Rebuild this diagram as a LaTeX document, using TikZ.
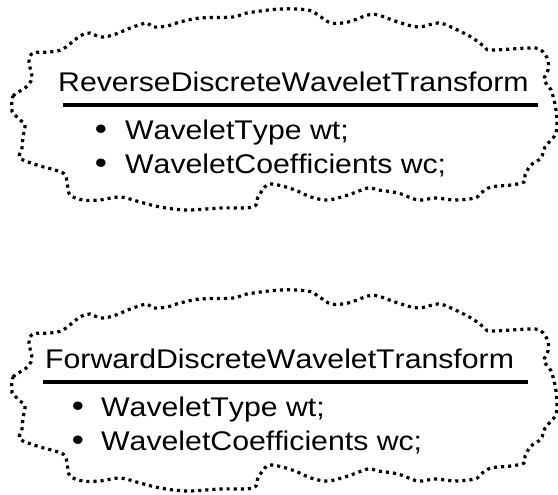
\documentclass[tikz,border=0pt]{standalone}
\usepackage{fontspec}
\setmainfont{Liberation Sans}
\newfontfamily\boxfont[FakeStretch=1.12, Kerning=Off]{Liberation Sans}
\tikzset{
  cloudline/.style={line width=3.2pt, dash pattern=on 3.1pt off 4pt, line cap=butt, line join=round},
  titletext/.style={anchor=base west, inner sep=0pt, font=\boxfont\fontsize{27pt}{30pt}\selectfont},
  itemtext/.style={anchor=base west, inner sep=0pt, font=\boxfont\fontsize{27pt}{30pt}\selectfont},
  bulletmark/.style={anchor=base, inner sep=0pt, font=\boxfont\fontsize{31pt}{30pt}\selectfont},
  rulebar/.style={line width=3.2pt},
  thoughtcloud/.pic={
    \draw[cloudline] plot[smooth cycle, tension=0.55] coordinates {
      (12,110) (13,96) (25,88) (32,78) (29,62) (33,53) (50,52) (63,49)
      (80,36) (90,33) (100,37) (113,35) (133,27) (147,23) (153,27) (167,26)
      (180,22) (200,18) (233,17) (247,13) (280,9) (308,10) (318,15) (331,23)
      (348,22) (368,15) (378,15) (398,22) (418,27) (438,23) (451,27) (471,37)
      (485,47) (491,50) (531,48) (541,50) (548,60) (548,70) (544,80) (551,90)
      (556,110) (556,133) (545,147) (541,158) (531,165) (525,175) (524,182)
      (511,185) (491,187) (481,193) (475,198) (455,200) (435,198) (418,200)
      (398,193) (378,190) (368,188) (348,195) (328,200) (311,197) (295,190)
      (278,185) (267,185) (258,197) (253,207) (220,208) (187,210) (160,207)
      (140,202) (120,197) (100,200) (83,200) (70,195) (67,183) (63,173)
      (37,165) (20,158) (22,148) (23,137) (25,125) (20,120) (13,113)
    };
  }
}
\begin{document}
\begin{tikzpicture}[x=1pt, y=-1pt]
  \fill[white] (0,0) rectangle (558,495);
  \useasboundingbox (0,0) rectangle (558,495);

  % Reverse transform class
  \pic at (0,0) {thoughtcloud};
  \node[titletext] (rtitle) at (58,92) {ReverseDiscreteWaveletTransform};
  \draw[rulebar] (63,105) -- (538,105);
  \node[bulletmark] (rb1) at (101,140) {•};
  \node[itemtext] (ri1) at (125,140) {WaveletType wt;};
  \node[bulletmark] (rb2) at (101,174) {•};
  \node[itemtext] (ri2) at (125,174) {WaveletCoefficients wc;};

  % Forward transform class
  \pic at (0,281) {thoughtcloud};
  \node[titletext] (ftitle) at (45,368) {ForwardDiscreteWaveletTransform};
  \draw[rulebar] (43,382) -- (528,382);
  \node[bulletmark] (fb1) at (78,416) {•};
  \node[itemtext] (fi1) at (101,416) {WaveletType wt;};
  \node[bulletmark] (fb2) at (78,450) {•};
  \node[itemtext] (fi2) at (101,450) {WaveletCoefficients wc;};
\end{tikzpicture}
\end{document}
